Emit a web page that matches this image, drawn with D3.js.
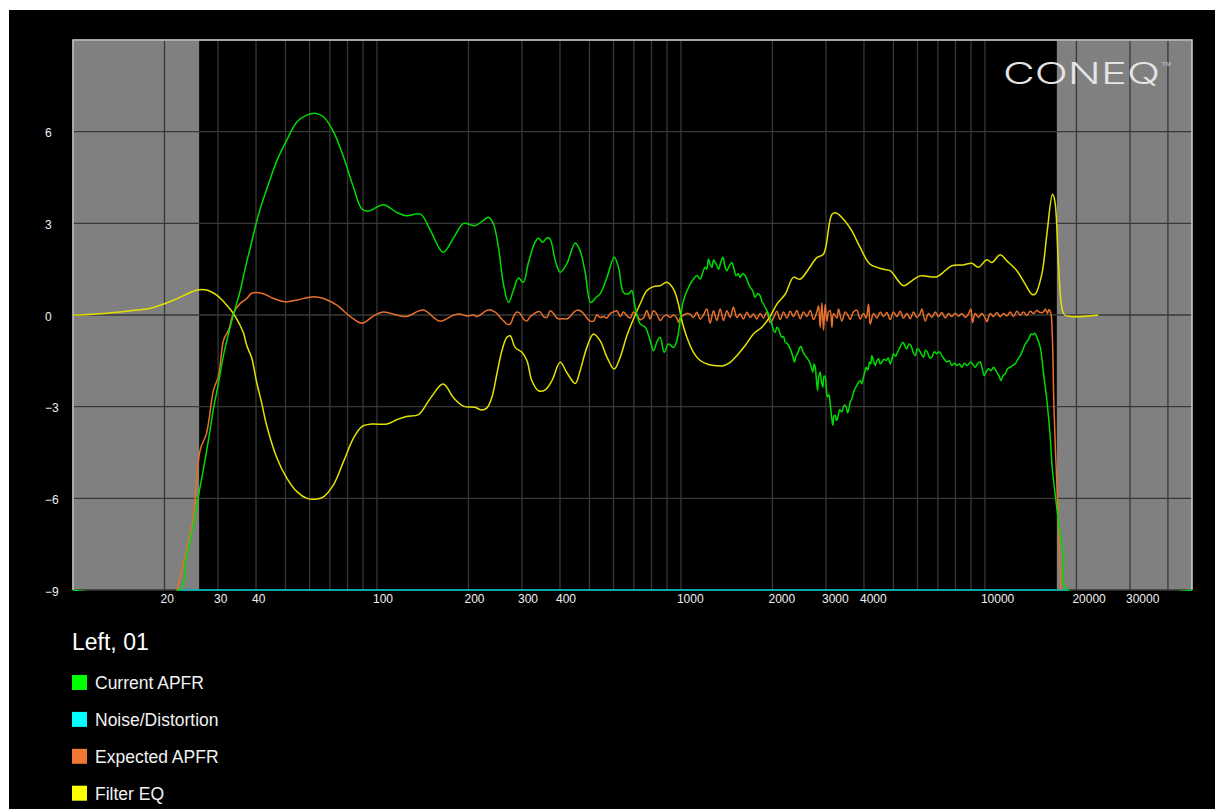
<!DOCTYPE html>
<html>
<head>
<meta charset="utf-8">
<script src="https://cdn.jsdelivr.net/npm/d3@7"></script>
<style>
  html, body { margin: 0; padding: 0; background: #ffffff; }
  svg { display: block; }
  text { font-family: "Liberation Sans", Arial, sans-serif; }
</style>
</head>
<body>
<svg id="chart" width="1215" height="809"></svg>
<script>
// ---- data -------------------------------------------------------------
const xTickLabels = [20, 30, 40, 100, 200, 300, 400, 1000, 2000, 3000, 4000, 10000, 20000, 30000];
const yTickLabels = [-9, -6, -3, 0, 3, 6];
const yGridValues = [-9, -6, -3, 0, 3, 6, 9];
const shadeBands = [[10, 26], [17240, 48000]];
const chartTitle = "Left, 01";
const seriesNames = ["Current APFR", "Noise/Distortion", "Expected APFR", "Filter EQ"];
const seriesColors = ["#00ff00", "#00ffff", "#f07830", "#ffff00"];

// [frequency Hz, level dB]
const currentAPFR = [
  [10, -9], [22.3, -9], [23.5, -8.0], [24.5, -7.2], [25.2, -6.6], [26.0, -5.8], [26.9, -5.0],
  [28, -4.0], [29, -3.05], [30, -2.3], [31.3, -1.3], [32.5, -0.6], [33.7, 0], [35.5, 0.8],
  [36.8, 1.5], [38.3, 2.2], [40.8, 3.3], [44, 4.3], [46.9, 5.06], [50.5, 5.72], [54.5, 6.32],
  [58.8, 6.54], [62.6, 6.6], [66.7, 6.48], [71.9, 6.0], [77.6, 5.17], [83.7, 4.18], [89.2, 3.47],
  [93.8, 3.4], [105, 3.61], [116, 3.36], [125, 3.25], [139, 3.3], [150, 2.76], [165, 2.05],
  [179, 2.54], [193, 3.0], [210, 2.92], [224, 3.1], [232.7, 3.2], [241.6, 2.98], [251, 2.21],
  [260.7, 1.01], [270.8, 0.41], [281, 0.8], [292, 1.21], [303, 1.07], [315, 1.72], [331, 2.38],
  [340, 2.51], [351, 2.38], [362, 2.52], [371, 2.49], [386, 1.78], [400.6, 1.40], [421, 1.67],
  [449, 2.36], [466, 2.1], [484, 1.4], [505, 0.41], [526, 0.58], [542, 0.69], [571, 1.23],
  [603, 1.89], [623, 1.56], [647, 0.74], [672, 0.69], [689, 0.8], [707, 0.25], [734, -0.29],
  [763, -0.4], [792, -0.84], [812, -1.17], [833, -0.89], [854, -0.73], [881, -1.22], [910, -0.95],
  [945, -1.06], [969, -0.84], [999, -0.02], [1019, 0.47], [1072, 1.01], [1100, 1.18], [1128, 1.29],
  [1157, 1.18], [1180, 1.4], [1201, 1.56], [1216, 1.5], [1232, 1.83], [1248, 1.65], [1264, 1.56],
  [1280, 1.8], [1296, 1.72], [1312, 1.62], [1329, 1.5], [1350, 1.7], [1374, 1.89], [1395, 1.6],
  [1416, 1.45], [1442, 1.6], [1470, 1.72], [1495, 1.5], [1519, 1.29], [1543, 1.35], [1566, 1.23],
  [1595, 1.35], [1627, 1.29], [1657, 1.1], [1689, 0.91], [1720, 0.8], [1754, 0.58], [1788, 0.7],
  [1822, 0.63], [1845, 0.45], [1869, 0.36], [1905, 0.2], [1941, 0.03], [1966, -0.1], [1991, -0.29],
  [2016, -0.5], [2042, -0.57], [2068, -0.4], [2094, -0.46], [2120, -0.62], [2148, -0.73],
  [2175, -0.7], [2203, -0.89], [2245, -0.95], [2288, -1.11], [2325, -1.3], [2364, -1.54],
  [2390, -1.35], [2418, -1.27], [2450, -1.1], [2480, -1.02], [2520, -1.2], [2563, -1.33],
  [2605, -1.42], [2648, -1.54], [2682, -1.7], [2716, -1.87], [2740, -1.6], [2765, -1.71],
  [2790, -2.1], [2814, -2.47], [2842, -2.0], [2871, -1.87], [2900, -2.2], [2930, -2.36],
  [2955, -2.0], [2982, -2.03], [3008, -2.45], [3035, -2.68], [3066, -2.6], [3097, -2.9],
  [3128, -3.3], [3160, -3.61], [3188, -3.3], [3217, -3.28], [3245, -3.45], [3274, -3.39],
  [3330, -3.1], [3383, -3.17], [3440, -2.95], [3496, -3.01], [3530, -3.2], [3559, -3.12],
  [3605, -2.85], [3650, -2.74], [3720, -2.45], [3791, -2.3], [3840, -2.2], [3888, -2.14],
  [3937, -2.25], [3987, -2.03], [4030, -1.85], [4068, -1.71], [4120, -1.8], [4172, -1.54],
  [4210, -1.6], [4247, -1.33], [4300, -1.5], [4355, -1.65], [4410, -1.5], [4467, -1.43],
  [4525, -1.6], [4581, -1.54], [4660, -1.45], [4734, -1.49], [4805, -1.4], [4880, -1.6],
  [4940, -1.45], [5004, -1.27], [5080, -1.35], [5159, -1.22], [5260, -1.05], [5371, -0.89],
  [5450, -1.0], [5536, -1.11], [5620, -0.95], [5706, -1.0], [5800, -1.2], [5897, -1.33],
  [5995, -1.1], [6094, -1.16], [6190, -1.3], [6281, -1.38], [6380, -1.15], [6474, -1.22],
  [6580, -1.4], [6690, -1.38], [6820, -1.2], [6949, -1.27], [7080, -1.2], [7217, -1.33],
  [7355, -1.45], [7496, -1.54], [7640, -1.5], [7785, -1.65], [7935, -1.58], [8086, -1.65],
  [8240, -1.6], [8397, -1.71], [8560, -1.58], [8722, -1.65], [8855, -1.6], [8990, -1.54],
  [9140, -1.62], [9290, -1.71], [9470, -1.58], [9649, -1.54], [9800, -1.75], [9946, -1.98],
  [10110, -1.85], [10278, -1.76], [10475, -1.82], [10675, -1.71], [10840, -1.8], [11003, -1.92],
  [11140, -2.0], [11284, -2.14], [11470, -1.98], [11661, -1.92], [11885, -1.75], [12112, -1.71],
  [12345, -1.65], [12579, -1.6], [12820, -1.45], [13065, -1.33], [13315, -1.15], [13569, -0.95],
  [13795, -0.85], [14022, -0.73], [14200, -0.62], [14382, -0.64], [14600, -0.6], [14823, -0.73],
  [15202, -1.05], [15591, -1.92], [15990, -2.79], [16399, -4.0], [16650, -5.0], [17090, -6.0],
  [17550, -6.93], [18100, -7.9], [18690, -9], [48000, -9]
];

const noiseDistortion = [[22.3, -9], [18690, -9]];

const expectedAPFR = [
  [22.0, -9], [23.5, -7.8], [24.8, -6.7], [26.2, -4.42], [27.5, -3.87], [29.0, -2.45], [30.1, -2.0],
  [31.3, -0.82], [32.5, -0.49], [33.7, 0.05], [35.5, 0.38], [37.3, 0.54], [38.7, 0.71], [41.8, 0.71],
  [45.7, 0.54], [49.8, 0.43], [54.5, 0.49], [61.9, 0.6], [66.7, 0.54], [73.8, 0.32], [81.7, -0.05],
  [89.2, -0.27], [97.5, -0.03], [105, 0.1], [116, 0.0], [125, -0.05], [142, 0.16], [161, -0.2],
  [179, 0.0], [187.8, 0.03], [192.6, 0.0], [197.6, -0.03], [202.6, -0.02], [207.8, 0.0],
  [213.1, -0.05], [218.5, 0.0], [224.1, 0.08], [229.9, 0.15], [235.7, 0.17], [241.8, 0.12],
  [248, 0.05], [254.3, -0.08], [260.8, -0.19], [267.5, -0.3], [274.3, -0.3], [281.3, -0.05],
  [288.5, 0.1], [295.9, 0.05], [303.4, -0.13], [311.2, -0.2], [319.2, -0.05], [327.3, 0.02],
  [335.7, 0.1], [344.3, 0.1], [353.1, -0.05], [362.1, -0.08], [371.4, 0.14], [380.9, 0.05],
  [390.6, -0.1], [400.6, -0.13], [410.8, -0.12], [421.3, -0.13], [432.1, -0.05], [443.2, 0.08],
  [454.5, 0.16], [466.1, 0.14], [478, 0.05], [490.3, -0.1], [502.8, -0.2], [515.6, -0.2],
  [528.8, 0.0], [542.3, -0.08], [556.2, -0.05], [570.4, -0.1], [585, 0.05], [600, 0.1],
  [615.3, 0.14], [631, -0.05], [647.1, 0.1], [663.7, -0.02], [680.7, -0.1], [698.1, 0.1],
  [715.9, 0.0], [734.2, -0.15], [753, -0.1], [772.3, 0.15], [792, -0.13], [812.3, 0.14],
  [833, 0.03], [854.3, -0.18], [876.2, -0.05], [898.6, 0.0], [921.6, -0.08], [945.1, 0.0],
  [969.3, -0.1], [981.6, -0.24], [994.1, -0.1], [1019.5, 0.0], [1045.6, 0.05], [1072.3, 0.03],
  [1099.7, -0.08], [1127.8, 0.09], [1156.7, -0.13], [1186.3, 0.0], [1216.6, 0.2], [1247.7, -0.27],
  [1279.6, 0.14], [1312.4, -0.18], [1345.9, 0.2], [1380.4, -0.18], [1415.7, 0.14], [1451.9, -0.08],
  [1489, 0.25], [1527.1, -0.08], [1566.2, 0.03], [1606.2, -0.13], [1647.3, 0.09], [1689.5, -0.08],
  [1732.7, 0.03], [1777, -0.13], [1822.5, 0.05], [1869.1, -0.1], [1916.9, 0.1], [1965.9, -0.25],
  [2016.2, -0.1], [2067.8, 0.12], [2120.7, -0.15], [2175, 0.1], [2230.6, -0.1], [2287.7, 0.12],
  [2346.2, -0.05], [2406.2, 0.15], [2467.7, -0.12], [2530.8, 0.1], [2595.5, -0.05], [2661.9, 0.15],
  [2730, -0.15], [2799.8, 0.1], [2835, 0.3], [2871.4, -0.4], [2908, 0.4], [2944.8, -0.5],
  [2982, 0.35], [3020.1, -0.2], [3058, 0.1], [3097.3, 0.15], [3137, -0.4], [3176.5, 0.05],
  [3257.8, -0.1], [3299, 0.2], [3384, -0.2], [3470, 0.1], [3559, -0.05], [3604, -0.15],
  [3696.2, 0.1], [3790.7, 0.15], [3887.6, -0.13], [3987, 0.05], [4068, -0.1], [4141, 0.35],
  [4193.5, -0.3], [4300.8, 0.05], [4410.8, -0.1], [4523.6, 0.1], [4639.3, -0.05], [4757.9, 0.08],
  [4879.6, -0.15], [5004.4, 0.1], [5132.4, -0.05], [5263.6, 0.12], [5398.2, -0.1], [5536.3, 0.05],
  [5677.9, -0.12], [5823.1, 0.1], [5972, -0.08], [6124.7, 0.05], [6203, 0.2], [6361, -0.2],
  [6524, 0.05], [6690, -0.08], [6862, 0.1], [7037, -0.05], [7217, 0.08], [7402, -0.1],
  [7591, 0.05], [7785, -0.05], [7984, 0.06], [8188, -0.04], [8397, 0.05], [8612, -0.08],
  [8833, 0.04], [8990, 0.2], [9104, -0.25], [9290, 0.05], [9528, -0.08], [9771, 0.05],
  [10022, -0.1], [10149, -0.22], [10409, 0.05], [10675, -0.05], [10948, 0.08], [11228, -0.06],
  [11515, 0.05], [11810, -0.03], [12112, 0.1], [12421, -0.05], [12739, 0.12], [13065, 0.0],
  [13399, 0.1], [13742, -0.02], [14093, 0.12], [14453, 0.05], [14823, 0.15], [15202, 0.08],
  [15591, 0.1], [15789, 0.2], [16071, 0.05], [16234, 0.18], [16482, 0.05], [16650, -0.6],
  [16870, -3.0], [17090, -4.6], [17320, -6.0], [17550, -7.5], [17780, -9]
];

const filterEQ = [
  [10, 0], [11, 0.01], [12.3, 0.04], [14.3, 0.1], [16.2, 0.16], [18, 0.22], [20.9, 0.44],
  [23.3, 0.65], [25.6, 0.82], [27.5, 0.82], [29.7, 0.65], [31, 0.48], [32, 0.33], [33, 0.17],
  [34.2, -0.05], [35.3, -0.3], [36.4, -0.6], [37.3, -1.0], [38.7, -1.4], [40.2, -2.2], [41.8, -2.9],
  [43.3, -3.59], [46.9, -4.69], [50.5, -5.34], [54.5, -5.78], [58.8, -6.0], [62.6, -6.03],
  [66.7, -5.95], [71.9, -5.56], [77.6, -4.8], [83.7, -4.03], [89.2, -3.65], [96.2, -3.57],
  [107.8, -3.57], [116, -3.43], [125, -3.32], [137, -3.26], [150, -2.72], [165, -2.26],
  [179, -2.72], [193, -2.99], [210, -3.02], [221, -3.11], [230, -3.04], [238.8, -2.69],
  [248, -1.93], [257.6, -1.17], [267.5, -0.73], [274.3, -0.68], [284.8, -1.06], [299.7, -1.22],
  [311.3, -1.49], [323.3, -2.15], [340, -2.48], [357.6, -2.45], [376.2, -2.15], [400.6, -1.55],
  [421, -1.88], [449, -2.24], [466, -1.82], [490.3, -1.06], [515.5, -0.62], [542, -0.84],
  [571, -1.38], [603, -1.77], [631, -1.38], [663.7, -0.68], [697.9, -0.13], [734, 0.36],
  [772.6, 0.8], [812, 0.93], [854, 0.96], [898.8, 1.07], [945, 0.85], [981.1, 0.36],
  [1007, -0.19], [1045.7, -0.73], [1099.5, -1.22], [1157, -1.49], [1232, -1.62], [1313, -1.66],
  [1380, -1.66], [1451.6, -1.55], [1527, -1.33], [1627, -1.0], [1731.8, -0.62], [1846, -0.4],
  [1965, -0.05], [2066, 0.35], [2202, 0.68], [2345, 1.23], [2467, 1.17], [2627, 1.5],
  [2800, 1.88], [2944, 1.99], [3137, 3.29], [3241, 3.34], [3469, 3.07], [3650, 2.75],
  [3887, 2.21], [4192, 1.66], [4637, 1.5], [4878, 1.45], [5394, 0.96], [5749, 1.12],
  [6124, 1.28], [6948, 1.25], [7399, 1.45], [7784, 1.61], [8501, 1.64], [9056, 1.69],
  [9521, 1.56], [10147, 1.81], [10537, 1.72], [11225, 1.97], [11808, 1.77], [12736, 1.45],
  [13563, 1.01], [14268, 0.68], [14630, 0.68], [15390, 1.34], [15987, 2.64], [16682, 3.95],
  [16985, 3.73], [17451, 1.67], [17898, 0.27], [18300, 0], [23600, 0]
];

// ---- layout -----------------------------------------------------------
const svg = d3.select("#chart");
const plot = { left: 73, right: 1192, top: 40, bottom: 590 };

const x = d3.scaleLog().domain([10, 48000]).range([plot.left, plot.right]);
const y = d3.scaleLinear().domain([-9, 9]).range([plot.bottom, plot.top]);

// page background
svg.append("rect").attr("x", 9).attr("y", 10).attr("width", 1206).attr("height", 799).attr("fill", "#000");

svg.append("defs").append("clipPath").attr("id", "plotClip")
  .append("rect")
  .attr("x", plot.left).attr("y", plot.top - 1)
  .attr("width", plot.right - plot.left).attr("height", plot.bottom - plot.top + 2);

// out-of-range shading
svg.append("g").selectAll("rect").data(shadeBands).join("rect")
  .attr("x", d => x(d[0]))
  .attr("y", plot.top)
  .attr("width", d => x(d[1]) - x(d[0]))
  .attr("height", plot.bottom - plot.top)
  .attr("fill", "#808080");

// grid
const grid = svg.append("g").attr("stroke", "#383838").attr("stroke-width", 1.3);
grid.selectAll("line.v").data(x.ticks()).join("line").attr("class", "v")
  .attr("x1", d => x(d)).attr("x2", d => x(d))
  .attr("y1", plot.top).attr("y2", plot.bottom);
grid.selectAll("line.h").data(yGridValues).join("line").attr("class", "h")
  .attr("x1", plot.left).attr("x2", plot.right)
  .attr("y1", d => y(d)).attr("y2", d => y(d));

// frame
svg.append("path")
  .attr("d", `M${plot.left},${plot.bottom}V${plot.top}H${plot.right}V${plot.bottom}`)
  .attr("fill", "none").attr("stroke", "#cfcfcf").attr("stroke-width", 1.5);

// series
const line = d3.line()
  .x(d => x(d[0]))
  .y(d => y(d[1]))
  .curve(d3.curveCatmullRom.alpha(0.5));

const traces = [
  { data: noiseDistortion, color: "#00d0d0", width: 1.6 },
  { data: expectedAPFR, color: "#e8702c", width: 1.5 },
  { data: filterEQ, color: "#e2e200", width: 1.5 },
  { data: currentAPFR, color: "#00dc00", width: 1.5 }
];
svg.append("g").attr("clip-path", "url(#plotClip)")
  .selectAll("path").data(traces).join("path")
  .attr("d", d => line(d.data))
  .attr("fill", "none")
  .attr("stroke", d => d.color)
  .attr("stroke-width", d => d.width)
  .attr("stroke-linejoin", "round");

// x axis labels
const xAxis = svg.append("g")
  .attr("transform", `translate(0,${plot.bottom})`)
  .call(d3.axisBottom(x).tickValues(xTickLabels).tickFormat(d3.format("d")).tickSize(0));
xAxis.select(".domain").remove();
xAxis.selectAll("text")
  .attr("y", 13).attr("dy", null).attr("dx", -4.5)
  .attr("text-anchor", "start")
  .attr("fill", "#f0f0f0")
  .style("font-size", "12px")
  .style("font-family", "'Liberation Sans', Arial, sans-serif");

// y axis labels
const yAxis = svg.append("g")
  .call(d3.axisLeft(y).tickValues(yTickLabels).tickSize(0));
yAxis.select(".domain").remove();
yAxis.selectAll("text")
  .attr("x", 45).attr("dy", "0.35em").attr("y", 1)
  .attr("text-anchor", "start")
  .attr("fill", "#f0f0f0")
  .style("font-size", "12px")
  .style("font-family", "'Liberation Sans', Arial, sans-serif");

// brand mark
svg.append("text")
  .attr("x", 1003).attr("y", 84)
  .attr("textLength", 157).attr("lengthAdjust", "spacingAndGlyphs")
  .attr("fill", "#e4e4e4")
  .style("font-family", "Inter, 'DejaVu Sans', sans-serif")
  .style("font-weight", 300)
  .style("font-size", "30px")
  .text("CONEQ");
svg.append("text")
  .attr("x", 1162).attr("y", 66)
  .attr("fill", "#cfcfcf")
  .style("font-size", "6px")
  .text("TM");

// legend
svg.append("text")
  .attr("x", 72).attr("y", 650)
  .attr("fill", "#ffffff")
  .style("font-size", "23px")
  .text(chartTitle);

const legend = svg.append("g").selectAll("g").data(seriesNames).join("g")
  .attr("transform", (d, i) => `translate(72,${675 + i * 36.9})`);
legend.append("rect")
  .attr("width", 15).attr("height", 15)
  .attr("fill", (d, i) => seriesColors[i]);
legend.append("text")
  .attr("x", 23).attr("y", 14)
  .attr("fill", "#f2f2f2")
  .style("font-size", "17.5px")
  .text(d => d);
</script>
</body>
</html>
